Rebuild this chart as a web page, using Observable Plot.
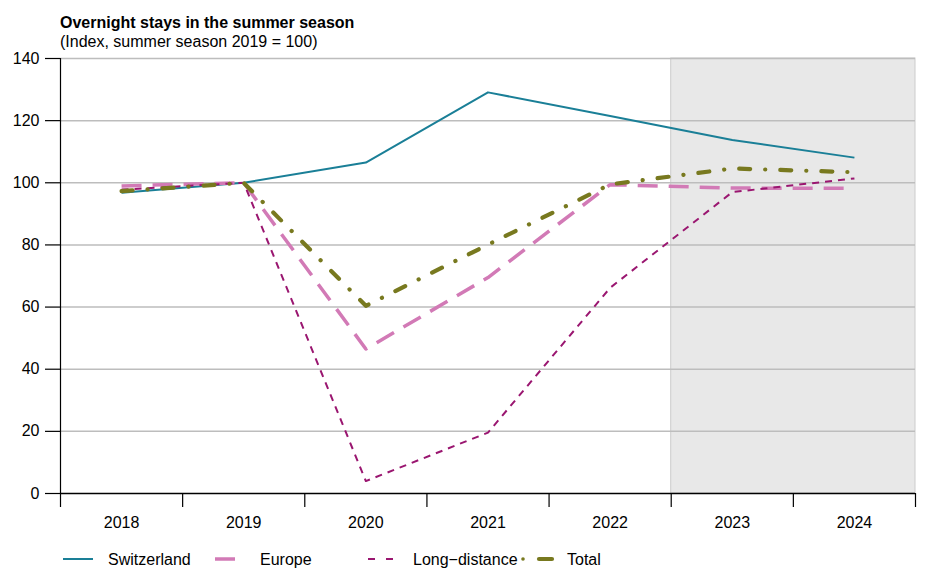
<!DOCTYPE html>
<html><head><meta charset="utf-8">
<script src="https://cdn.jsdelivr.net/npm/d3@7"></script>
<script src="https://cdn.jsdelivr.net/npm/@observablehq/plot@0.6"></script>
<style>
body{margin:0;background:#fff;font-family:"Liberation Sans",Arial,sans-serif;color:#000;}
#wrap{position:relative;width:930px;height:580px;}
#title{position:absolute;left:60px;top:14px;font-size:16px;font-weight:bold;line-height:18px;}
#subtitle{position:absolute;left:60px;top:33px;font-size:16px;line-height:18px;}
#chart{position:absolute;left:0;top:0;}
#legend{position:absolute;left:0;top:544px;}
</style></head>
<body>
<div id="wrap">
<div id="chart"></div>
<div id="title">Overnight stays in the summer season</div>
<div id="subtitle">(Index, summer season 2019 = 100)</div>
<div id="legend"></div>
</div>
<script>
const years = [2018, 2019, 2020, 2021, 2022, 2023, 2024];
const switzerland = [96.8, 100, 106.5, 129.1, 121.5, 113.8, 108.1];
const europe = [99.0, 100, 46.5, 69.5, 99.4, 98.3, 98.2];
const longDistance = [97.8, 100, 4.0, 19.6, 66.2, 97.0, 101.4];
const total = [97.3, 100, 60.4, 80.1, 99.5, 104.6, 103.4];
const seriesNames = ["Switzerland", "Europe", "Long−distance", "Total"];
const yTicks = [0, 20, 40, 60, 80, 100, 120, 140];
const projectionYears = [2023, 2024];

const colors = {"Switzerland": "#1a7f97", "Europe": "#d27ab6", "Long−distance": "#9a1670", "Total": "#78791f"};
const styles = {
  "Switzerland": {strokeWidth: 2, strokeDasharray: null, strokeLinecap: "butt"},
  "Europe": {strokeWidth: 3.5, strokeDasharray: "20,11", strokeLinecap: "butt"},
  "Long−distance": {strokeWidth: 2, strokeDasharray: "7,6", strokeLinecap: "butt"},
  "Total": {strokeWidth: 4.2, strokeDasharray: "11,15,0.1,15", strokeLinecap: "round"}
};
const valuesBySeries = {"Switzerland": switzerland, "Europe": europe, "Long−distance": longDistance, "Total": total};
const data = seriesNames.flatMap(s => years.map((yr, i) => ({series: s, year: yr, value: valuesBySeries[s][i]})));

const xMin = years[0] - 0.5, xMax = years[years.length - 1] + 0.5;
const boundaries = d3.range(xMin, xMax + 0.01, 1);

const lineMarks = seriesNames.map(s => Plot.line(data.filter(d => d.series === s), {
  x: "year", y: "value", stroke: colors[s], strokeWidth: styles[s].strokeWidth,
  strokeDasharray: styles[s].strokeDasharray, strokeLinecap: styles[s].strokeLinecap,
  strokeLinejoin: "round"
}));

const chart = Plot.plot({
  width: 930, height: 580,
  marginTop: 58, marginLeft: 60, marginRight: 15, marginBottom: 87,
  style: {fontFamily: "Liberation Sans, Arial, sans-serif", fontSize: "16px", background: "transparent", color: "#000"},
  x: {domain: [xMin, xMax]},
  y: {domain: [0, 140]},
  marks: [
    Plot.rect([projectionYears], {x1: d => d[0] - 0.5, x2: d => d[1] + 0.5, y1: 0, y2: 140, fill: "#e8e8e8", stroke: "#cccccc", strokeWidth: 1}),
    Plot.gridY({ticks: yTicks.filter(t => t > 0), stroke: "#bdbdbd", strokeOpacity: 1, strokeWidth: 1.5}),
    Plot.ruleX([xMin], {y1: 0, y2: 140, stroke: "#000", strokeWidth: 1.2}),
    Plot.axisY({ticks: yTicks, tickSize: 15, tickPadding: 6, label: null, strokeWidth: 1.2, fontSize: 16}),
    Plot.axisX({ticks: boundaries, tickSize: 14, tickFormat: () => "", label: null, strokeWidth: 1.2}),
    Plot.axisX({ticks: years, tickSize: 0, tickPadding: 23, tickFormat: d => String(d), label: null, fontSize: 16}),
    ...lineMarks,
    Plot.ruleY([0], {stroke: "#000", strokeWidth: 1.5})
  ]
});
document.getElementById("chart").appendChild(chart);

// Legend
const lg = d3.select("#legend").append("svg").attr("width", 930).attr("height", 30)
  .style("font-family", "Liberation Sans, Arial, sans-serif").style("font-size", "16px");
const cy = 15;
const legendItems = [
  {s: "Switzerland", x1: 63, x2: 93, tx: 108},
  {s: "Europe", x1: 215, x2: 235, tx: 260},
  {s: "Long−distance", x1: 368, x2: 393, tx: 413},
  {s: "Total", x1: 539, x2: 552, tx: 567}
];
legendItems.forEach(it => {
  const st = styles[it.s];
  lg.append("line").attr("x1", it.x1).attr("x2", it.x2).attr("y1", cy).attr("y2", cy)
    .attr("stroke", colors[it.s]).attr("stroke-width", st.strokeWidth)
    .attr("stroke-dasharray", it.s === "Long−distance" ? "7,11" : null)
    .attr("stroke-linecap", st.strokeLinecap);
  lg.append("text").attr("x", it.tx).attr("y", cy).attr("dy", "0.35em").text(it.s);
});
lg.append("circle").attr("cx", 523).attr("cy", cy).attr("r", 1.8).attr("fill", colors["Total"]);
</script>
</body></html>
